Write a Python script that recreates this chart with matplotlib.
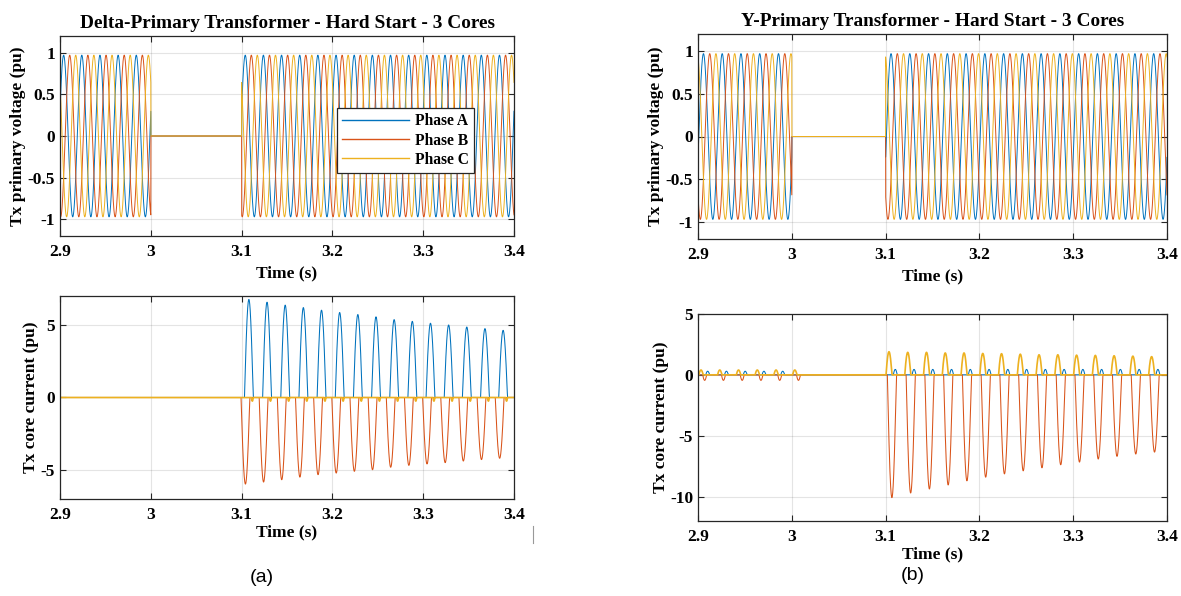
import numpy as np
import matplotlib

matplotlib.use("Agg")
import matplotlib.pyplot as plt
from matplotlib.lines import Line2D

plt.rcParams["font.family"] = ["Liberation Serif", "DejaVu Serif"]
plt.rcParams["font.weight"] = "bold"
plt.rcParams["axes.unicode_minus"] = False

# MATLAB default line colours
COLORS = {"A": "#0072BD", "B": "#D95319", "C": "#EDB120"}
PHASES = ["Phase A", "Phase B", "Phase C"]

FREQ = 50.0  # Hz
V_AMP = 0.97  # pu
OFF_START, OFF_END = 3.0, 3.1  # supply switched off in this window

# time of first voltage peak of each phase (s)
delta_v_peak = {"A": 2.904, "B": 2.9107, "C": 2.8973}
wye_v_peak = {"A": 2.9058, "B": 2.9125, "C": 2.8991}

# core current pulses: first pulse time (s), peak values (pu)
delta_a_t0 = 3.1080
delta_a_peaks = [6.76, 6.57, 6.37, 6.20, 6.02, 5.86, 5.72, 5.56, 5.37, 5.25,
                 5.12, 5.00, 4.86, 4.75, 4.63]
delta_b_t0 = 3.1042
delta_b_peaks = [-5.97, -5.83, -5.67, -5.49, -5.32, -5.21, -5.09, -4.98, -4.81,
                 -4.68, -4.58, -4.49, -4.38, -4.28, -4.19]
delta_c_t0 = 3.1118
delta_c_peaks = [-0.25] * 15

wye_a_pre_t0 = 2.9103
wye_a_pre = [0.30] * 5
wye_b_pre_t0 = 2.9071
wye_b_pre = [-0.45] * 6
wye_c_pre_t0 = 2.9032
wye_c_pre = [0.40] * 6

wye_a_t0 = 3.1103
wye_a_peaks = [0.45] * 15
wye_b_t0 = 3.1067
wye_b_peaks = [-10.08, -9.70, -9.37, -9.04, -8.70, -8.40, -8.13, -7.88, -7.63,
               -7.38, -7.16, -6.91, -6.69, -6.50, -6.34]
wye_c_t0 = 3.1036
wye_c_peaks = [1.90, 1.85, 1.85, 1.80, 1.80, 1.76, 1.74, 1.70, 1.65, 1.65,
               1.62, 1.60, 1.57, 1.54, 1.50]

t = np.arange(2.9, 3.4, 1e-5)
w = 2 * np.pi * FREQ
period = 1 / FREQ


def voltage(peak_time):
    v = V_AMP * np.cos(w * (t - peak_time))
    v[(t >= OFF_START) & (t < OFF_END)] = 0.0
    return v


def pulses(t0, peaks, clip):
    # saturation-style current humps: clipped cosine around each peak
    y = np.zeros_like(t)
    for k, pk in enumerate(peaks):
        c = np.cos(w * (t - (t0 + k * period)))
        near = np.abs(t - (t0 + k * period)) < period / 2
        hump = np.where(near & (c > clip), (c - clip) / (1 - clip), 0.0)
        y += pk * hump
    return y


def style(ax, ylim, yticks, yticklabels, ylabel, xlabelpad=1):
    ax.set_xlim(2.9, 3.4)
    ax.set_ylim(*ylim)
    ax.set_xticks([2.9, 3.0, 3.1, 3.2, 3.3, 3.4])
    ax.set_xticklabels(["2.9", "3", "3.1", "3.2", "3.3", "3.4"])
    ax.set_yticks(yticks)
    ax.set_yticklabels(yticklabels)
    ax.grid(True, color="#262626", alpha=0.12, linewidth=0.8)
    ax.tick_params(direction="in", top=True, right=True, length=4,
                   width=0.8, color="#262626", labelsize=12.5)
    ax.tick_params(axis="x", pad=6)
    ax.tick_params(axis="y", pad=3.5)
    for lab in ax.get_xticklabels() + ax.get_yticklabels():
        lab.set_fontweight("bold")
    for sp in ax.spines.values():
        sp.set_color("#262626")
        sp.set_linewidth(0.9)
    ax.set_xlabel("Time (s)", fontsize=12.5, fontweight="bold", labelpad=xlabelpad)
    ax.set_ylabel(ylabel, fontsize=12.5, fontweight="bold", labelpad=1)


W, H = 1181, 596
fig = plt.figure(figsize=(W / 100, H / 100), dpi=100)


def add_axes(x0, y0, x1, y1):
    return fig.add_axes([x0 / W, 1 - y1 / H, (x1 - x0) / W, (y1 - y0) / H])


ax_dv = add_axes(60, 36, 514, 236)
ax_di = add_axes(60, 296, 514, 499)
ax_yv = add_axes(698, 34, 1167, 239)
ax_yi = add_axes(698, 314, 1167, 521)

v_ticks = [-1, -0.5, 0, 0.5, 1]
v_labels = ["-1", "-0.5", "0", "0.5", "1"]

# voltages
for ax, peaks in [(ax_dv, delta_v_peak), (ax_yv, wye_v_peak)]:
    for ph in ["A", "B", "C"]:
        ax.plot(t, voltage(peaks[ph]), color=COLORS[ph], linewidth=0.7)
    style(ax, (-1.2, 1.2), v_ticks, v_labels, "Tx primary voltage (pu)", xlabelpad=4)

ax_dv.set_title("Delta-Primary Transformer - Hard Start - 3 Cores",
                fontsize=13.9, fontweight="bold", pad=6)
ax_yv.set_title("Y-Primary Transformer - Hard Start - 3 Cores",
                fontsize=13.9, fontweight="bold", pad=6)

handles = [Line2D([], [], color=COLORS[p], linewidth=1) for p in "ABC"]
leg = ax_dv.legend(handles, PHASES, loc="upper left",
                   bbox_to_anchor=(0.610, 0.64),
                   prop={"weight": "bold", "size": 11.2},
                   frameon=True, fancybox=False, handlelength=4.3,
                   handletextpad=0.35, borderpad=0.35, labelspacing=0.2,
                   borderaxespad=0, framealpha=1)
leg.get_frame().set_edgecolor("#262626")
leg.get_frame().set_linewidth(0.9)

# delta core currents
ax_di.plot(t, pulses(delta_a_t0, delta_a_peaks, 0.05), color=COLORS["A"], linewidth=0.75)
ax_di.plot(t, pulses(delta_b_t0, delta_b_peaks, 0.05), color=COLORS["B"], linewidth=0.75)
ax_di.plot(t, pulses(delta_c_t0, delta_c_peaks, 0.95), color=COLORS["C"], linewidth=1.2)
style(ax_di, (-7, 7), [-5, 0, 5], ["-5", "0", "5"], "Tx core current (pu)")

# wye core currents
ia = pulses(wye_a_pre_t0, wye_a_pre, 0.8) + pulses(wye_a_t0, wye_a_peaks, 0.8)
ib = pulses(wye_b_pre_t0, wye_b_pre, 0.8) + pulses(wye_b_t0, wye_b_peaks, 0.05)
ic = pulses(wye_c_pre_t0, wye_c_pre, 0.75) + pulses(wye_c_t0, wye_c_peaks, 0.55)
ax_yi.plot(t, ia, color=COLORS["A"], linewidth=0.75)
ax_yi.plot(t, ib, color=COLORS["B"], linewidth=0.75)
ax_yi.plot(t, ic, color=COLORS["C"], linewidth=1.2)
style(ax_yi, (-12, 5), [-10, -5, 0, 5], ["-10", "-5", "0", "5"], "Tx core current (pu)")

# panel captions
fig.text(262 / W, 1 - 578 / H, "(a)", family="Liberation Sans", fontweight="normal",
         fontsize=14, ha="center", va="center")
fig.text(913 / W, 1 - 575 / H, "(b)", family="Liberation Sans", fontweight="normal",
         fontsize=14, ha="center", va="center")
fig.add_artist(Line2D([533 / W, 533 / W], [1 - 526 / H, 1 - 543 / H],
                      color="#999999", linewidth=0.8))

fig.savefig("out.png", dpi=100, facecolor="white")
